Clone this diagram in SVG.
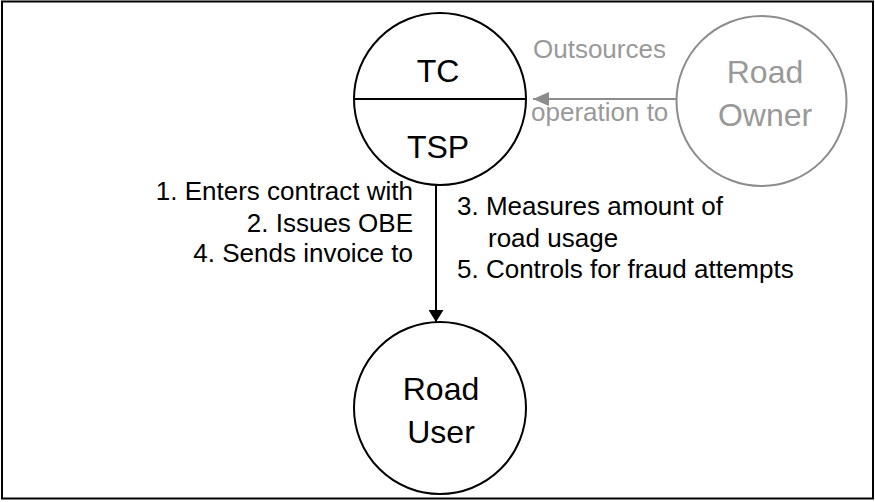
<svg xmlns="http://www.w3.org/2000/svg" width="875" height="502" viewBox="0 0 875 502">
  <style>
    .frame { fill: #ffffff; stroke: #000000; stroke-width: 2; }
    .node { fill: #ffffff; stroke: #000000; stroke-width: 2; }
    .node-muted { fill: #ffffff; stroke: #8c8c8c; stroke-width: 2; }
    .title { font-family: "Liberation Sans", Arial, sans-serif; font-size: 32px; fill: #000000; text-anchor: middle; }
    .title-muted { font-family: "Liberation Sans", Arial, sans-serif; font-size: 32px; fill: #999999; text-anchor: middle; }
    .label { font-family: "Liberation Sans", Arial, sans-serif; font-size: 26px; fill: #000000; }
    .label-muted { font-family: "Liberation Sans", Arial, sans-serif; font-size: 26px; fill: #999999; }
    .edge { fill: none; stroke: #000000; stroke-width: 2; }
    .edge-muted { fill: none; stroke: #8c8c8c; stroke-width: 2; }
  </style>
  <defs>
    <marker id="head" viewBox="0 0 12 15" refX="12" refY="7.5" markerWidth="12" markerHeight="15" markerUnits="userSpaceOnUse" orient="auto">
      <path d="M0,0 L12,7.5 L0,15 Z" fill="#000000"/>
    </marker>
    <marker id="head-muted" viewBox="0 0 16 14" refX="16" refY="7" markerWidth="16" markerHeight="14" markerUnits="userSpaceOnUse" orient="auto">
      <path d="M0,0 L16,7 L0,14 Z" fill="#8c8c8c"/>
    </marker>
  </defs>

  <rect class="frame" x="2" y="1.5" width="871" height="497"/>

  <!-- connectors -->
  <g id="connectors">
    <line class="edge-muted" x1="677" y1="99" x2="533" y2="99" marker-end="url(#head-muted)"/>
    <line class="edge" x1="436" y1="185" x2="436" y2="322" marker-end="url(#head)"/>
  </g>

  <!-- toll charger / toll service provider -->
  <g id="tc-tsp">
    <circle class="node" cx="440" cy="99" r="86"/>
    <line class="edge" x1="354" y1="99" x2="526" y2="99"/>
    <text class="title" x="438" y="82">TC</text>
    <text class="title" x="438" y="158">TSP</text>
  </g>

  <g id="road-owner">
    <circle class="node-muted" cx="761.5" cy="101" r="85"/>
    <text class="title-muted" x="765" y="83">Road</text>
    <text class="title-muted" x="765" y="126">Owner</text>
  </g>

  <g id="road-user">
    <circle class="node" cx="440" cy="408" r="86"/>
    <text class="title" x="441" y="400">Road</text>
    <text class="title" x="441" y="443">User</text>
  </g>

  <!-- edge labels -->
  <g id="labels">
    <text class="label-muted" x="533" y="58">Outsources</text>
    <text class="label-muted" x="531" y="121">operation to</text>

    <text class="label" x="413" y="200" text-anchor="end">1. Enters contract with</text>
    <text class="label" x="413" y="232" text-anchor="end">2. Issues OBE</text>
    <text class="label" x="413" y="262" text-anchor="end">4. Sends invoice to</text>

    <text class="label" x="457" y="215">3. Measures amount of</text>
    <text class="label" x="488" y="247">road usage</text>
    <text class="label" x="457" y="278">5. Controls for fraud attempts</text>
  </g>
</svg>
